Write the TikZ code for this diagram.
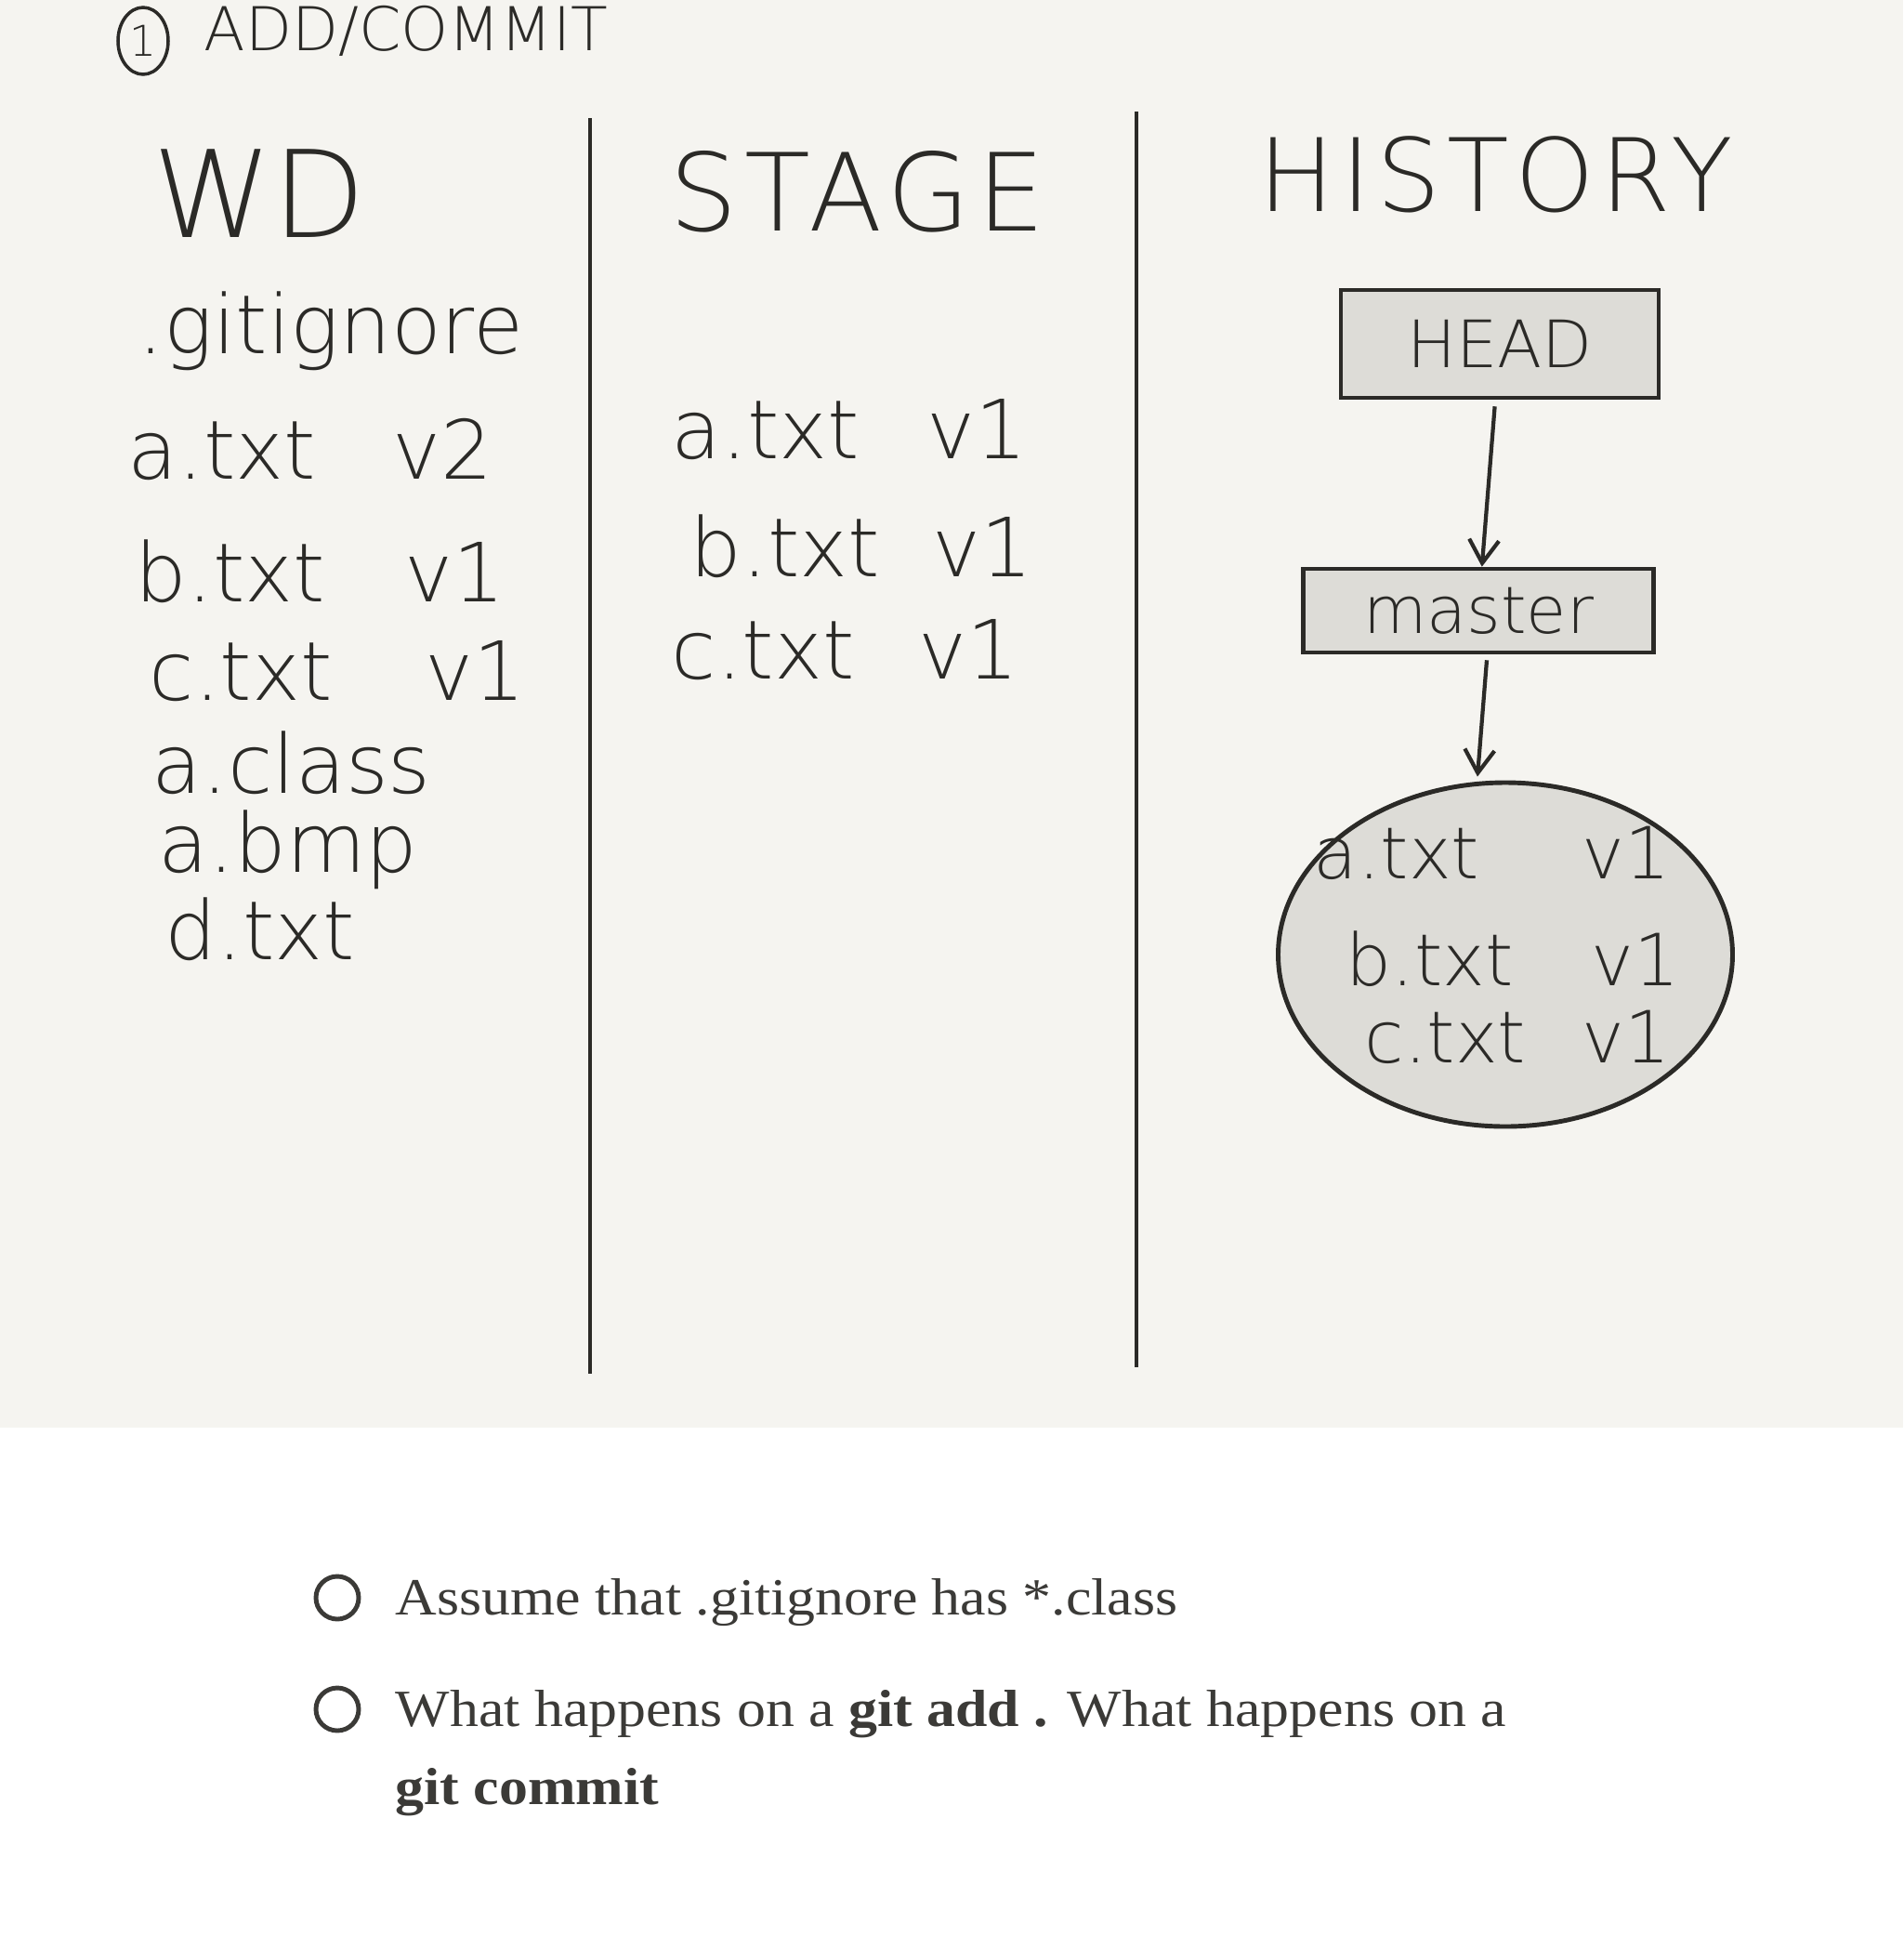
\documentclass[tikz,border=0pt]{standalone}
\usepackage{fontspec}
\usetikzlibrary{arrows.meta,shapes.geometric}
\newfontfamily\hand{DejaVu Sans ExtraLight}
\newfontfamily\handwide[LetterSpace=6]{DejaVu Sans ExtraLight}
\newfontfamily\notefont[FakeStretch=1.1]{Liberation Serif}
\definecolor{paper}{HTML}{F5F4F0}
\definecolor{ink}{HTML}{2B2A27}
\definecolor{boxgray}{HTML}{DDDCD7}
\definecolor{notegray}{HTML}{3B3A37}
\begin{document}
\begin{tikzpicture}[
	hw/.style={font={\hand\fontsize{25}{28}\selectfont}, text=ink, anchor=base west, inner sep=0pt},
	hwsmall/.style={hw, font={\hand\fontsize{22}{26}\selectfont}},
	header/.style={font={\handwide\fontsize{31}{34}\selectfont}, text=ink, anchor=base west, inner sep=0pt},
	refbox/.style={draw=ink, fill=boxgray, line width=1.3pt, font={\hand\fontsize{20}{24}\selectfont}, text=ink},
	arr/.style={draw=ink, line width=1.2pt, -{Straight Barb[length=2.5mm,width=3.2mm,line width=1.2pt]}},
	note/.style={font={\notefont\fontsize{16}{19}\selectfont}, text=notegray, anchor=base west, inner sep=0pt},
	bullet/.style={circle, draw=notegray, line width=1.4pt, minimum size=0.46cm, inner sep=0pt}
	]
			\useasboundingbox (0,0) rectangle (20.48,-20.98);
			\fill[white] (0,0) rectangle (20.48,-20.98);
			\fill[paper] (0,0) rectangle (20.48,-15.36);

			% title
			\node[draw=ink, line width=1pt, ellipse, minimum width=0.54cm, minimum height=0.72cm, inner sep=0pt, text=ink, font={\hand\fontsize{13}{15}\selectfont}] at (1.54,-0.44) (num) {1};
			\node[font={\hand\fontsize{18.5}{21}\selectfont}, text=ink, anchor=base west, inner sep=0pt] at (2.19,-0.54) (title) {ADD/COMMIT};

			% column dividers
			\coordinate (d1t) at (6.35,-1.27);
			\coordinate (d1b) at (6.35,-14.78);
			\coordinate (d2t) at (12.23,-1.20);
			\coordinate (d2b) at (12.23,-14.71);
			\draw[ink, line width=0.9pt] (d1t)--(d1b);
			\draw[ink, line width=0.9pt] (d2t)--(d2b);

			% working directory
			\node[header, font={\hand\fontsize{37}{40}\selectfont}] at (1.64,-2.55) (wd) {WD};
			\node[hw] at (1.48,-3.80) (gi) {.gitignore};
			\node[hw] at (1.37,-5.15) (wa) {a.txt};
			\node[hw] at (4.22,-5.15) (wav) {v2};
			\node[hw] at (1.45,-6.47) (wb) {b.txt};
			\node[hw] at (4.35,-6.47) (wbv) {v1};
			\node[hw] at (1.60,-7.53) (wc) {c.txt};
			\node[hw] at (4.57,-7.53) (wcv) {v1};
			\node[hw] at (1.63,-8.53) (wcl) {a.class};
			\node[hw] at (1.70,-9.38) (wbmp) {a.bmp};
			\node[hw] at (1.77,-10.32) (wd1) {d.txt};

			% stage
			\node[header, font={\handwide\fontsize{33}{36}\selectfont}] at (7.20,-2.48) (st) {STAGE};
			\node[hw] at (7.22,-4.93) (sa) {a.txt};
			\node[hw] at (9.97,-4.93) (sav) {v1};
			\node[hw] at (7.42,-6.20) (sb) {b.txt};
			\node[hw] at (10.03,-6.20) (sbv) {v1};
			\node[hw] at (7.22,-7.30) (sc) {c.txt};
			\node[hw] at (9.88,-7.30) (scv) {v1};

			% history
			\node[header] at (13.54,-2.27) (hi) {HISTORY};
			\node[refbox, minimum width=3.42cm, minimum height=1.16cm] at (16.14,-3.70) (head) {HEAD};
			\node[refbox, minimum width=3.77cm, minimum height=0.90cm] at (15.91,-6.57) (master) {master};
			\node[ellipse, draw=ink, fill=boxgray, line width=1.4pt, minimum width=4.89cm, minimum height=3.70cm] at (16.20,-10.27) (commit) {};
			\node[hwsmall] at (14.13,-9.45) (ca) {a.txt};
			\node[hwsmall] at (17.02,-9.45) (cav) {v1};
			\node[hwsmall] at (14.48,-10.60) (cb) {b.txt};
			\node[hwsmall] at (17.12,-10.60) (cbv) {v1};
			\node[hwsmall] at (14.68,-11.43) (cc) {c.txt};
			\node[hwsmall] at (17.02,-11.43) (ccv) {v1};
			\draw[arr, shorten <=0.07cm] (head)--(master);
			\draw[arr] ([xshift=0.09cm,yshift=-0.06cm]master.south)--([xshift=-0.30cm,yshift=0.04cm]commit.north);

			% notes
			\node[bullet] at (3.63,-17.19) (b1) {};
			\node[note] at (4.25,-17.37) (n1) {Assume that .gitignore has *.class};
			\node[bullet] at (3.63,-18.39) (b2) {};
			\node[note] at (4.25,-18.57) (n2) {What happens on a \textbf{git add .} What happens on a};
			\node[note] at (4.25,-19.41) (n3) {\textbf{git commit}};
		\end{tikzpicture}
\end{document}
